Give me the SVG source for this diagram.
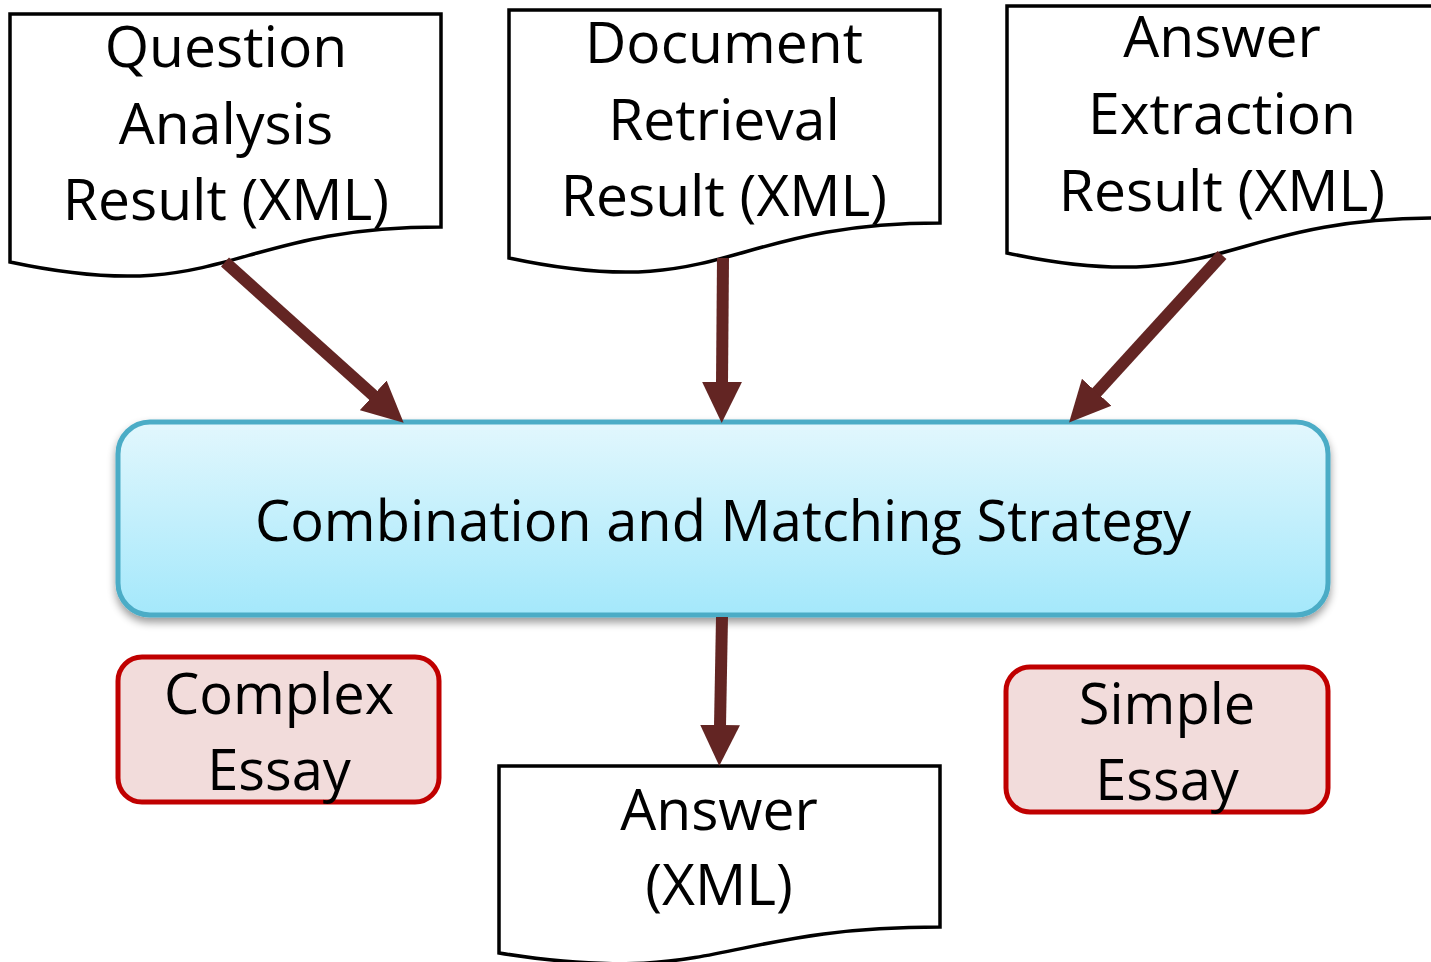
<svg xmlns="http://www.w3.org/2000/svg" width="1431" height="962" viewBox="0 0 1431 962">
<defs>
<style>
.doc{fill:#fff;stroke:#000;stroke-width:3.5}
.t{font-family:"Open Sans","Noto Sans","Liberation Sans",sans-serif;font-size:57px;fill:#000;text-anchor:middle}
.s{font-size:56px}
.conn{stroke:#632523;stroke-width:12;fill:none}
.ess{fill:#F2DCDB;stroke:#C00000;stroke-width:5}
</style>
<linearGradient id="g" x1="0" y1="0" x2="0" y2="1">
<stop offset="0" stop-color="#E2F7FD"/>
<stop offset="1" stop-color="#A4E8FB"/>
</linearGradient>
<filter id="sh" x="-5%" y="-10%" width="110%" height="130%">
<feGaussianBlur in="SourceAlpha" stdDeviation="4"/>
<feOffset dx="0" dy="5"/>
<feComponentTransfer><feFuncA type="linear" slope="0.4"/></feComponentTransfer>
<feMerge><feMergeNode/><feMergeNode in="SourceGraphic"/></feMerge>
</filter>
<marker id="ah" markerUnits="userSpaceOnUse" markerWidth="42" markerHeight="42" viewBox="0 0 40 40" refX="1" refY="20" orient="auto">
<path d="M0,1 L39,20 L0,39 Z" fill="#632523"/>
</marker>
</defs>

<g id="doc-question">
<path class="doc" d="M10,14 H441 V227 C226,227 226,308 10,262 Z"/>
<text class="t" x="226" y="67">Question</text>
<text class="t" x="226" y="144">Analysis</text>
<text class="t" x="226" y="220">Result (XML)</text>
</g>

<g id="doc-retrieval">
<path class="doc" d="M509,10 H940 V223 C724,223 724,304 509,258 Z"/>
<text class="t" x="724" y="63">Document</text>
<text class="t" x="724" y="140">Retrieval</text>
<text class="t" x="724" y="216">Result (XML)</text>
</g>

<g id="doc-extraction">
<path class="doc" d="M1007,6 H1438 V218 C1222,218 1222,299 1007,253 Z"/>
<text class="t" x="1222" y="57">Answer</text>
<text class="t" x="1222" y="134">Extraction</text>
<text class="t" x="1222" y="211">Result (XML)</text>
</g>

<g id="strategy">
<rect x="118" y="422" width="1210" height="193" rx="32" ry="32" fill="url(#g)" stroke="#4BACC6" stroke-width="5" filter="url(#sh)"/>
<text class="t s" x="723" y="541">Combination and Matching Strategy</text>
</g>

<g id="complex-essay">
<rect class="ess" x="118" y="657" width="321" height="145" rx="24" ry="24"/>
<text class="t s" x="279" y="714">Complex</text>
<text class="t s" x="279" y="790">Essay</text>
</g>

<g id="simple-essay">
<rect class="ess" x="1006" y="667" width="322" height="145" rx="24" ry="24"/>
<text class="t s" x="1167" y="724">Simple</text>
<text class="t s" x="1167" y="800">Essay</text>
</g>

<g id="doc-answer">
<path class="doc" d="M499,766 H940 V927 C719,927 719,988 499,953 Z"/>
<text class="t" x="719" y="830">Answer</text>
<text class="t" x="719" y="905">(XML)</text>
</g>

<g id="connectors">
<line class="conn" x1="225" y1="262" x2="374" y2="396" marker-end="url(#ah)"/>
<line class="conn" x1="723" y1="258" x2="722" y2="383" marker-end="url(#ah)"/>
<line class="conn" x1="1222" y1="255" x2="1096" y2="393" marker-end="url(#ah)"/>
<line class="conn" x1="722" y1="617" x2="720" y2="726" marker-end="url(#ah)"/>
</g>
</svg>
